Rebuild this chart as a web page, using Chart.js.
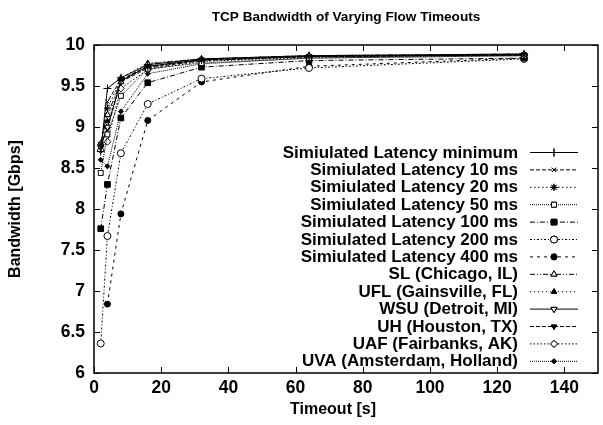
<!DOCTYPE html>
<html>
<head>
<meta charset="utf-8">
<script src="https://cdn.jsdelivr.net/npm/chart.js@4.4.0/dist/chart.umd.min.js"></script>
<style>
  body { margin: 0; background: #fff; }
  #wrap { width: 603px; height: 425px; }
</style>
</head>
<body>
<div id="wrap"><canvas id="myChart" width="603" height="425"></canvas></div>
<script>
// timeouts in seconds
const timeouts = [2, 4, 8, 16, 32, 64, 128];

const seriesNames = [
  'Simiulated Latency minimum',
  'Simiulated Latency 10 ms',
  'Simiulated Latency 20 ms',
  'Simiulated Latency 50 ms',
  'Simiulated Latency 100 ms',
  'Simiulated Latency 200 ms',
  'Simiulated Latency 400 ms',
  'SL (Chicago, IL)',
  'UFL (Gainsville, FL)',
  'WSU (Detroit, MI)',
  'UH (Houston, TX)',
  'UAF (Fairbanks, AK)',
  'UVA (Amsterdam, Holland)'
];

// bandwidth in Gbps
const latMin   = [8.70, 9.47, 9.60, 9.76, 9.83, 9.87, 9.89];
const lat10    = [8.76, 9.31, 9.58, 9.74, 9.82, 9.86, 9.88];
const lat20    = [8.78, 9.23, 9.57, 9.73, 9.81, 9.86, 9.88];
const lat50    = [8.44, 8.91, 9.38, 9.71, 9.78, 9.84, 9.87];
const lat100   = [7.76, 8.30, 9.11, 9.54, 9.73, 9.81, 9.84];
const lat200   = [6.36, 7.67, 8.68, 9.28, 9.59, 9.72, 9.83];
const lat400   = [null, 6.84, 7.94, 9.08, 9.55, 9.74, 9.84];
const slChi    = [8.80, 9.15, 9.55, 9.77, 9.83, 9.87, 9.89];
const uflGain  = [8.79, 9.07, 9.60, 9.78, 9.83, 9.87, 9.89];
const wsuDet   = [8.75, 9.00, 9.56, 9.74, 9.82, 9.86, 9.88];
const uhHou    = [8.79, 8.98, 9.55, 9.72, 9.81, 9.86, 9.88];
const uafFair  = [8.72, 8.82, 9.47, 9.70, 9.80, 9.85, 9.88];
const uvaAms   = [8.60, 8.52, 9.19, 9.65, 9.77, 9.84, 9.87];

const yTicks = [6, 6.5, 7, 7.5, 8, 8.5, 9, 9.5, 10];
const xTicks = [0, 20, 40, 60, 80, 100, 120, 140];

const chartTitle = 'TCP Bandwidth of Varying Flow Timeouts';
const xTitle = 'Timeout [s]';
const yTitle = 'Bandwidth [Gbps]';

const allValues = [latMin, lat10, lat20, lat50, lat100, lat200, lat400,
                   slChi, uflGain, wsuDet, uhHou, uafFair, uvaAms];

// line + marker style for each series (gnuplot-ish)
const styles = [
  { dash: [],               point: 'cross',    fill: false, r: 4 },
  { dash: [4, 2],           point: 'crossRot', fill: false, r: 3 },
  { dash: [1.5, 2.5],       point: 'star',     fill: false, r: 3.5 },
  { dash: [1, 1],           point: 'rect',     fill: false, r: 3.5 },
  { dash: [5, 2, 1, 2],     point: 'rect',     fill: true,  r: 4 },
  { dash: [2, 2, 1, 2],     point: 'circle',   fill: false, r: 3.5 },
  { dash: [3, 4],           point: 'circle',   fill: true,  r: 3 },
  { dash: [5, 2, 1, 2, 1, 2], point: 'triangle', fill: false, r: 3.5 },
  { dash: [1, 3],           point: 'triangle', fill: true,  r: 3 },
  { dash: [],               point: 'triangle', fill: false, r: 3.5, rot: 180 },
  { dash: [4, 2],           point: 'triangle', fill: true,  r: 3, rot: 180 },
  { dash: [1.5, 2],         point: 'rectRot',  fill: false, r: 3.5 },
  { dash: [1, 1],           point: 'rectRot',  fill: true,  r: 2.5 }
];

const datasets = allValues.map((vals, i) => ({
  label: seriesNames[i],
  data: timeouts.map((t, j) => ({ x: t, y: vals[j] })),
  borderColor: '#000',
  borderWidth: 1,
  borderDash: styles[i].dash,
  pointStyle: styles[i].point,
  pointRadius: styles[i].r,
  pointRotation: styles[i].rot || 0,
  pointBorderColor: '#000',
  pointBorderWidth: 1,
  pointBackgroundColor: styles[i].fill ? '#000' : '#fff',
  fill: false,
  tension: 0
}));

const FONT = "'Liberation Sans', Arial, Helvetica, sans-serif";

// frame + inward ticks on all four sides
const framePlugin = {
  id: 'frame',
  afterDatasetsDraw(chart) {
    const { ctx, chartArea: a, scales } = chart;
    ctx.save();
    ctx.strokeStyle = '#000';
    ctx.setLineDash([]);
    ctx.lineWidth = 1;
    xTicks.forEach(v => {
      const px = Math.round(scales.x.getPixelForValue(v)) + 0.5;
      ctx.beginPath();
      ctx.moveTo(px, a.bottom); ctx.lineTo(px, a.bottom - 6);
      ctx.moveTo(px, a.top); ctx.lineTo(px, a.top + 6);
      ctx.stroke();
    });
    yTicks.forEach(v => {
      const py = Math.round(scales.y.getPixelForValue(v)) + 0.5;
      ctx.beginPath();
      ctx.moveTo(a.left, py); ctx.lineTo(a.left + 6, py);
      ctx.moveTo(a.right, py); ctx.lineTo(a.right - 6, py);
      ctx.stroke();
    });
    ctx.lineWidth = 1.5;
    ctx.strokeRect(a.left, a.top, a.right - a.left, a.bottom - a.top);
    ctx.restore();
  }
};

// title and x label, placed like gnuplot does
const textPlugin = {
  id: 'gnuText',
  afterDraw(chart) {
    const { ctx, chartArea: a } = chart;
    ctx.save();
    ctx.fillStyle = '#000';
    ctx.textAlign = 'center';
    ctx.textBaseline = 'middle';
    ctx.font = 'bold 13.6px ' + FONT;
    ctx.fillText(chartTitle, (a.left + a.right) / 2, 17);
    ctx.font = 'bold 16px ' + FONT;
    ctx.fillText(xTitle, a.left + 239, 410);
    ctx.restore();
  }
};

// gnuplot style key: text right aligned, sample on the right
const keyPlugin = {
  id: 'gnuKey',
  afterDraw(chart) {
    const { ctx, chartArea: a } = chart;
    const textRight = a.right - 80;
    const x0 = a.right - 68, x1 = a.right - 20;
    const top = a.top + 107, step = 17.4;
    ctx.save();
    ctx.font = 'bold 17px ' + FONT;
    ctx.textAlign = 'right';
    ctx.textBaseline = 'middle';
    chart.data.datasets.forEach((ds, i) => {
      const y = top + i * step;
      ctx.fillStyle = '#000';
      ctx.fillText(ds.label, textRight, y + 1);
      ctx.strokeStyle = '#000';
      ctx.lineWidth = 1;
      ctx.setLineDash(ds.borderDash);
      ctx.beginPath();
      ctx.moveTo(x0, y + 0.5); ctx.lineTo(x1, y + 0.5);
      ctx.stroke();
      ctx.setLineDash([]);
      ctx.fillStyle = ds.pointBackgroundColor;
      Chart.helpers.drawPoint(ctx, {
        pointStyle: ds.pointStyle,
        radius: ds.pointRadius,
        rotation: ds.pointRotation,
        borderWidth: 1
      }, (x0 + x1) / 2, y + 0.5);
      ctx.fill();
      ctx.stroke();
    });
    ctx.restore();
  }
};

new Chart(document.getElementById('myChart'), {
  type: 'line',
  data: { datasets },
  plugins: [framePlugin, textPlugin, keyPlugin],
  options: {
    responsive: false,
    animation: false,
    devicePixelRatio: 1,
    layout: { padding: { left: 0, right: 3, top: 45, bottom: 0 } },
    plugins: {
      legend: { display: false },
      tooltip: { enabled: false },
      title: { display: false }
    },
    scales: {
      x: {
        type: 'linear',
        min: 0,
        max: 150,
        afterBuildTicks: s => { s.ticks = xTicks.map(v => ({ value: v })); },
        afterFit: s => { s.height = 52; },
        grid: { display: false, drawTicks: false },
        border: { display: false },
        ticks: {
          color: '#000',
          padding: 5,
          maxRotation: 0,
          font: { family: FONT, size: 17.5, weight: 'bold' }
        },
        title: { display: false }
      },
      y: {
        min: 6,
        max: 10,
        afterBuildTicks: s => { s.ticks = yTicks.map(v => ({ value: v })); },
        afterFit: s => { s.width = 94; },
        grid: { display: false, drawTicks: false },
        border: { display: false },
        ticks: {
          color: '#000',
          padding: 9,
          font: { family: FONT, size: 17.5, weight: 'bold' },
          callback: v => String(v)
        },
        title: {
          display: true,
          text: yTitle,
          color: '#000',
          font: { family: FONT, size: 16, weight: 'bold' },
          padding: { top: 5.5, bottom: 0 }
        }
      }
    }
  }
});
</script>
</body>
</html>
